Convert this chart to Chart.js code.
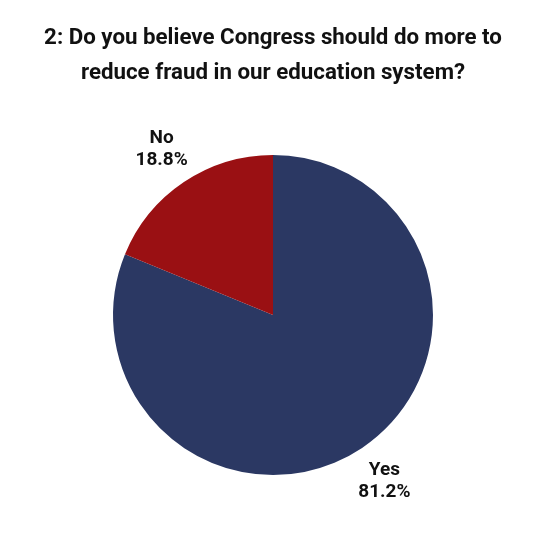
<!DOCTYPE html>
<html>
<head>
<meta charset="utf-8">
<script src="https://cdn.jsdelivr.net/npm/chart.js@4/dist/chart.umd.min.js"></script>
<style>
html,body{margin:0;padding:0;background:#fff;}
#wrap{width:550px;height:550px;}
</style>
</head>
<body>
<div id="wrap"><canvas id="c" width="550" height="550"></canvas></div>
<script>
const titleLines = ["2: Do you believe Congress should do more to", "reduce fraud in our education system?"];
const categories = ["Yes", "No"];
const values = [81.2, 18.8];
const colors = ["#2b3863", "#9a1013"];
const FONT = "Roboto";

const outsideLabels = {
  id: 'outsideLabels',
  afterDatasetsDraw(chart) {
    const ctx = chart.ctx;
    const meta = chart.getDatasetMeta(0);
    ctx.save();
    ctx.fillStyle = '#111';
    ctx.textAlign = 'center';
    ctx.textBaseline = 'middle';
    ctx.font = `bold 19px ${FONT}`;
    meta.data.forEach((arc, i) => {
      const p = arc.getProps(['x','y','startAngle','endAngle','outerRadius'], true);
      const mid = (p.startAngle + p.endAngle) / 2;
      const r = p.outerRadius * 1.25;
      const cx = p.x + Math.cos(mid) * r;
      const cy = p.y + Math.sin(mid) * r;
      ctx.fillText(categories[i], cx, cy - 11);
      ctx.fillText(values[i].toFixed(1) + '%', cx, cy + 11);
    });
    ctx.restore();
  }
};

new Chart(document.getElementById('c'), {
  type: 'pie',
  data: {
    labels: categories,
    datasets: [{ data: values, backgroundColor: colors, borderWidth: 0 }]
  },
  options: {
    responsive: false,
    animation: false,
    layout: { padding: { top: 0, bottom: 75, left: 0, right: 4 } },
    plugins: {
      legend: { display: false },
      tooltip: { enabled: false },
      title: {
        display: true,
        text: titleLines,
        color: '#111',
        font: { family: FONT, size: 22.3, weight: 'bold', lineHeight: 1.57 },
        padding: { top: 21, bottom: 64 }
      }
    }
  },
  plugins: [outsideLabels]
});
</script>
</body>
</html>
